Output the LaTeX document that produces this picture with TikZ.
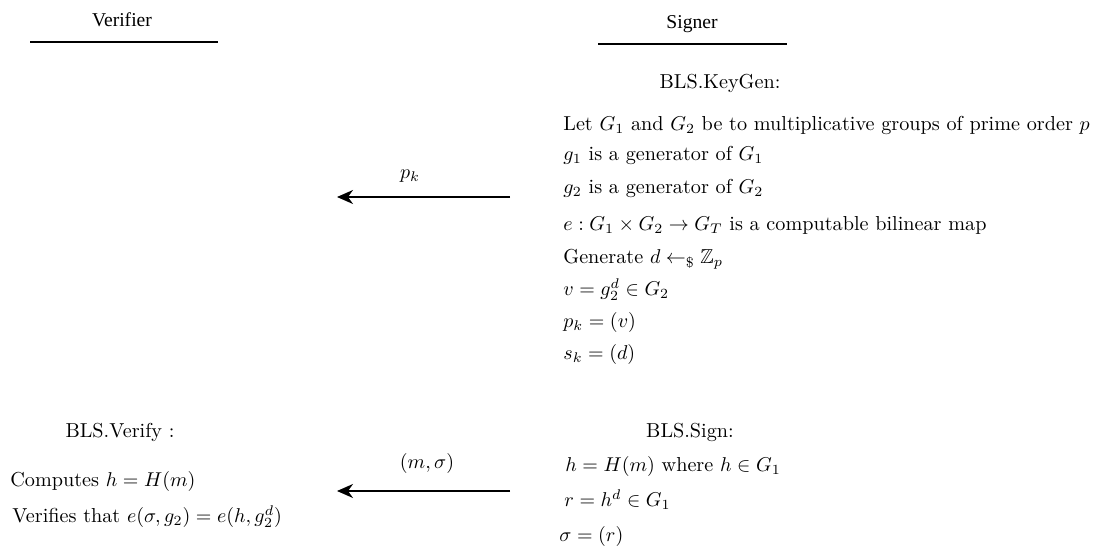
\documentclass[tikz,border=0pt]{standalone}
\usepackage{amsmath,amssymb}
\usepackage{fontspec}
\newfontfamily\timesf{Liberation Serif}
\usetikzlibrary{arrows.meta}
\begin{document}
\begin{tikzpicture}[x=0.5pt,y=-0.5pt,
  txt/.style={anchor=base west,inner sep=0pt,font=\fontsize{10.1}{12}\selectfont},
  ctxt/.style={anchor=base,inner sep=0pt,font=\fontsize{10.1}{12}\selectfont},
  hdr/.style={anchor=base,inner sep=0pt,font=\timesf\fontsize{9.8}{12}\selectfont},
  rule/.style={line width=0.65pt},
  msg/.style={line width=0.8pt,-{Stealth[length=8pt,width=7pt,inset=2.5pt]}},
  lbl/.style={anchor=base,inner sep=0pt,font=\fontsize{10.1}{12}\selectfont}]
\useasboundingbox (0,0) rectangle (1098,550);
% headers
\node[hdr] (ver) at (122,27) {Verifier};
\node[hdr] (sig) at (692,29) {Signer};
\coordinate (vl1) at (30,42); \coordinate (vl2) at (218,42);
\coordinate (sl1) at (598,44); \coordinate (sl2) at (787,44);
\draw[rule] (vl1) -- (vl2);
\draw[rule] (sl1) -- (sl2);
% keygen
\node[ctxt] (kg) at (720,89) {BLS.KeyGen:};
\node[txt] (k1) at (563,131) {Let $G_1$ and $G_2$ be to multiplicative groups of prime order $p$};
\node[txt] (k2) at (563,161) {$g_1$ is a generator of $G_1$};
\node[txt] (k3) at (563,194) {$g_2$ is a generator of $G_2$};
\node[txt] (k4) at (563,231) {$e:G_1\times G_2\rightarrow G_T$ is a computable bilinear map};
\node[txt] (k5) at (563,264) {Generate $d\leftarrow_{\$}\mathbb{Z}_p$};
\node[txt] (k6) at (563,296) {$v=g_2^d\in G_2$};
\node[txt] (k7) at (563,328) {$p_k=(v)$};
\node[txt] (k8) at (563,360) {$s_k=(d)$};
% arrow pk
\coordinate (a1s) at (510,197); \coordinate (a1e) at (337,197);
\draw[msg] (a1s) -- (a1e);
\node[lbl] (pk) at (410,179) {$p_k$};
% verify
\node[ctxt] (vf) at (120,438) {BLS.Verify :};
\node[txt] (v1) at (10,487) {Computes $h=H(m)$};
\node[txt] (v2) at (12,523) {Verifies that $e(\sigma,g_2)=e(h,g_2^d)$};
% sign
\node[ctxt] (sg) at (690,438) {BLS.Sign:};
\node[txt] (s1) at (565,472) {$h=H(m)$ where $h\in G_1$};
\node[txt] (s2) at (564,507) {$r=h^d\in G_1$};
\node[txt] (s3) at (559,541) {$\sigma=(r)$};
% arrow m,sigma
\coordinate (a2s) at (510,491); \coordinate (a2e) at (337,491);
\draw[msg] (a2s) -- (a2e);
\node[lbl] (ms) at (427,469) {$(m,\sigma)$};
\end{tikzpicture}
\end{document}
